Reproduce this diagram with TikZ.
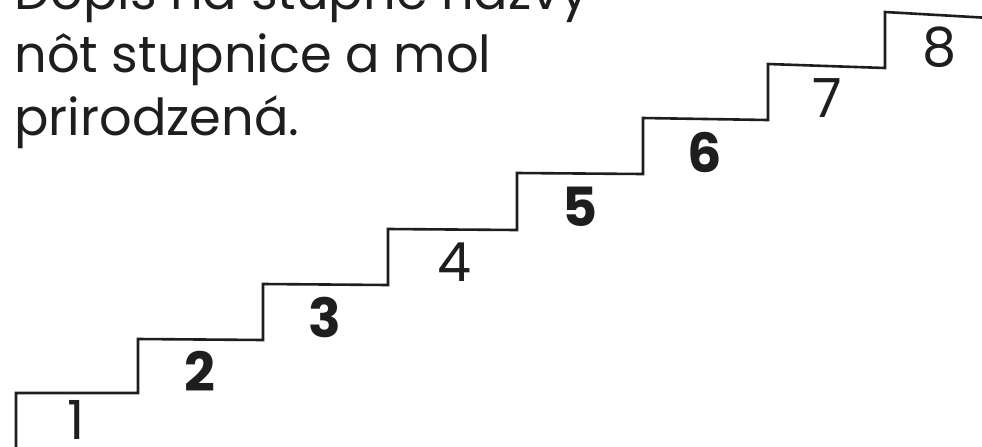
\documentclass[tikz,border=0pt]{standalone}
\usepackage{fontspec}
\setmainfont{Poppins}
\definecolor{stairink}{HTML}{1E1E1E}

\begin{document}
\begin{tikzpicture}[
  x=0.5pt,
  y=-0.5pt,
  every node/.style={text=stairink, inner sep=0pt},
  task/.style={font=\fontsize{25.5}{31}\selectfont, anchor=base west},
  degree/.style={font=\fontsize{27}{30}\selectfont},
  mark degree/.style={degree, font=\fontsize{27}{30}\selectfont\bfseries}
]
  \clip (0,0) rectangle (982,446);
  \fill[white] (0,0) rectangle (982,446);

  % zadanie
  \node[task] (line1) at (14,9) {Dopíš na stupne názvy};
  \node[task] (line2) at (14,72) {nôt stupnice a mol};
  \node[task] (line3) at (14,135) {prirodzená.};

  % schody
  \draw[stairink, line width=1.3pt, line join=miter]
    (16,450) -- (16,393) -- (138,393) -- (138,339) -- (263,340)
    -- (263,284) -- (388,285) -- (388,229) -- (517,230)
    -- (517,173) -- (643,174) -- (643,118) -- (768,120)
    -- (768,64) -- (885,68) -- (885,12) -- (990,18);

  \node[degree] (d1) at (76,420) {1};
  \node[mark degree] (d2) at (200,371) {2};
  \node[mark degree] (d3) at (325,317) {3};
  \node[degree] (d4) at (454,262) {4};
  \node[mark degree] (d5) at (580,207) {5};
  \node[mark degree] (d6) at (705,152) {6};
  \node[degree] (d7) at (827,98) {7};
  \node[degree] (d8) at (940,47) {8};
\end{tikzpicture}
\end{document}
